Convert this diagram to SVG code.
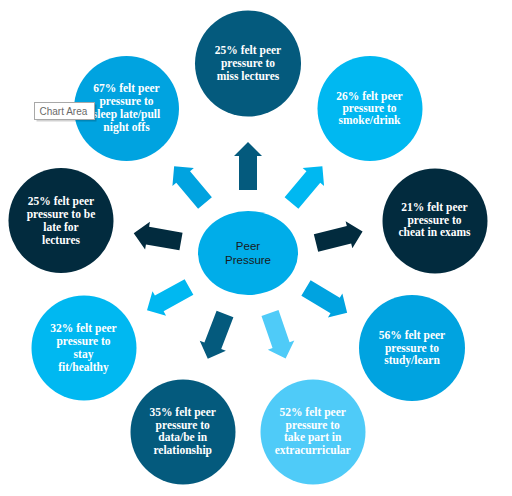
<svg xmlns="http://www.w3.org/2000/svg" width="512" height="496" viewBox="0 0 512 496">
<style>
.lbl{font-family:"Liberation Serif","Times New Roman",serif;font-weight:bold;font-size:11.5px;fill:#fff;text-anchor:middle}
.ctr{font-family:"Liberation Sans",Arial,sans-serif;font-size:11.5px;fill:#1a1a1a;text-anchor:middle}
.teal{fill:#045A7D}.navy{fill:#022B3E}.med{fill:#00A3E0}.bright{fill:#00B8F1}.light{fill:#4FCBF8}
</style>
<defs>
<path id="arr" d="M-9,0 L-9,-34 L-14,-34 L0,-48 L14,-34 L9,-34 L9,0 Z"/>
</defs>
<rect width="512" height="496" fill="#fff"/>
<g id="connectors">
<use href="#arr" class="teal" transform="translate(248,190)"/>
<use href="#arr" class="med" transform="translate(205,203) rotate(-40)"/>
<use href="#arr" class="bright" transform="translate(291.5,203) rotate(40)"/>
<use href="#arr" class="navy" transform="translate(181,241.5) rotate(-80)"/>
<use href="#arr" class="navy" transform="translate(316,243) rotate(76)"/>
<use href="#arr" class="bright" transform="translate(189,287) rotate(-119)"/>
<use href="#arr" class="teal" transform="translate(225,314) rotate(-159)"/>
<use href="#arr" class="light" transform="translate(270,313) rotate(161)"/>
<use href="#arr" class="med" transform="translate(306,288) rotate(121)"/>
</g>
<g id="center">
<ellipse cx="248" cy="253" rx="50" ry="42" fill="#00ADE9"/>
<text class="ctr" x="248" y="250">Peer</text>
<text class="ctr" x="248" y="264">Pressure</text>
</g>
<g id="n-top">
<circle cx="248" cy="63.5" r="53" class="teal"/>
<text class="lbl" x="248" y="54">25% felt peer</text>
<text class="lbl" x="248" y="67">pressure to</text>
<text class="lbl" x="248" y="80">miss lectures</text>
</g>
<g id="n-topleft">
<circle cx="126.5" cy="108.5" r="52.5" class="med"/>
<text class="lbl" x="126.5" y="92">67% felt peer</text>
<text class="lbl" x="126.5" y="105">pressure to</text>
<text class="lbl" x="126.5" y="118">sleep late/pull</text>
<text class="lbl" x="126.5" y="131">night offs</text>
</g>
<g id="n-topright">
<circle cx="370" cy="108.5" r="52.5" class="bright"/>
<text class="lbl" x="369.5" y="100">26% felt peer</text>
<text class="lbl" x="369.5" y="112">pressure to</text>
<text class="lbl" x="369.5" y="124">smoke/drink</text>
</g>
<g id="n-left">
<circle cx="61" cy="220.5" r="52.5" class="navy"/>
<text class="lbl" x="61" y="205">25% felt peer</text>
<text class="lbl" x="61" y="218">pressure to be</text>
<text class="lbl" x="61" y="231">late for</text>
<text class="lbl" x="61" y="244">lectures</text>
</g>
<g id="n-right">
<circle cx="435" cy="221" r="52.5" class="navy"/>
<text class="lbl" x="434.5" y="211">21% felt peer</text>
<text class="lbl" x="434.5" y="224">pressure to</text>
<text class="lbl" x="434.5" y="236">cheat in exams</text>
</g>
<g id="n-lowleft">
<circle cx="84" cy="348" r="52.5" class="bright"/>
<text class="lbl" x="83.5" y="332">32% felt peer</text>
<text class="lbl" x="83.5" y="345">pressure to</text>
<text class="lbl" x="83.5" y="358">stay</text>
<text class="lbl" x="83.5" y="371">fit/healthy</text>
</g>
<g id="n-bottomleft">
<circle cx="183" cy="432" r="52.5" class="teal"/>
<text class="lbl" x="182.7" y="416">35% felt peer</text>
<text class="lbl" x="182.7" y="429">pressure to</text>
<text class="lbl" x="182.7" y="441">data/be in</text>
<text class="lbl" x="182.7" y="454">relationship</text>
</g>
<g id="n-bottomright">
<circle cx="313" cy="432" r="52.5" class="light"/>
<text class="lbl" x="312.7" y="416">52% felt peer</text>
<text class="lbl" x="312.7" y="429">pressure to</text>
<text class="lbl" x="312.7" y="441">take part in</text>
<text class="lbl" x="312.7" y="454">extracurricular</text>
</g>
<g id="n-lowright">
<circle cx="412" cy="348" r="53" class="med"/>
<text class="lbl" x="412" y="339">56% felt peer</text>
<text class="lbl" x="412" y="352">pressure to</text>
<text class="lbl" x="412" y="364">study/learn</text>
</g>
<g id="tooltip">
<rect x="36.5" y="104.5" width="60" height="17" fill="#000" opacity="0.18"/>
<rect x="34.5" y="102.5" width="60" height="17" fill="#fff" stroke="#a8a8a8" stroke-width="1"/>
<text x="39.5" y="114.5" font-family="Liberation Sans,Arial,sans-serif" font-size="10" fill="#6a6a6a">Chart Area</text>
</g>
</svg>
